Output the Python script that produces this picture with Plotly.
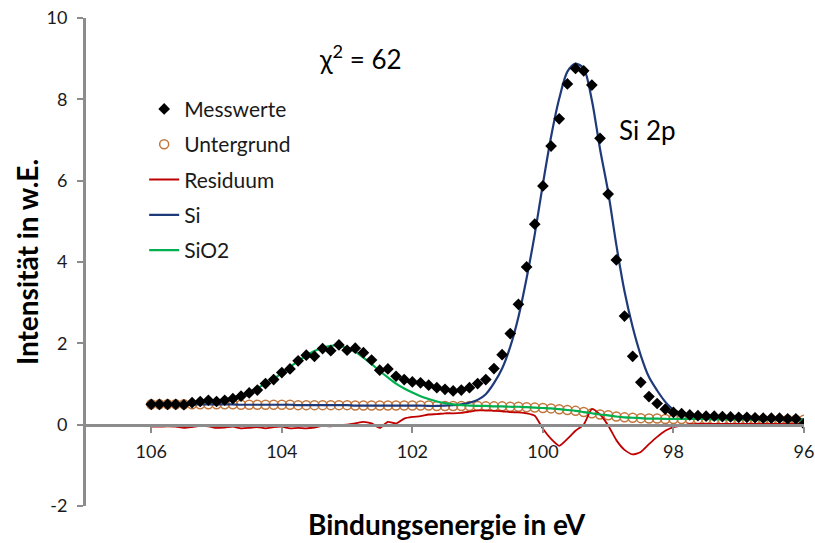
import plotly.graph_objects as go

# Binding energy grid (eV), 0.125 eV steps, high to low
energy = [
    106.0, 105.875, 105.75, 105.625, 105.5, 105.375, 105.25, 105.125,
    105.0, 104.875, 104.75, 104.625, 104.5, 104.375, 104.25, 104.125,
    104.0, 103.875, 103.75, 103.625, 103.5, 103.375, 103.25, 103.125,
    103.0, 102.875, 102.75, 102.625, 102.5, 102.375, 102.25, 102.125,
    102.0, 101.875, 101.75, 101.625, 101.5, 101.375, 101.25, 101.125,
    101.0, 100.875, 100.75, 100.625, 100.5, 100.375, 100.25, 100.125,
    100.0, 99.875, 99.75, 99.625, 99.5, 99.375, 99.25, 99.125,
    99.0, 98.875, 98.75, 98.625, 98.5, 98.375, 98.25, 98.125,
    98.0, 97.875, 97.75, 97.625, 97.5, 97.375, 97.25, 97.125,
    97.0, 96.875, 96.75, 96.625, 96.5, 96.375, 96.25, 96.125,
    96.0,
]

messwerte = [
    0.50, 0.50, 0.50, 0.50, 0.49, 0.54, 0.57, 0.60,
    0.57, 0.60, 0.64, 0.70, 0.78, 0.85, 1.01, 1.11,
    1.28, 1.37, 1.57, 1.71, 1.68, 1.87, 1.82, 1.96,
    1.83, 1.88, 1.77, 1.59, 1.34, 1.37, 1.19, 1.11,
    1.05, 1.03, 0.97, 0.91, 0.87, 0.83, 0.85, 0.91,
    1.01, 1.11, 1.38, 1.72, 2.24, 2.96, 3.88, 4.93,
    5.87, 6.85, 7.52, 8.38, 8.76, 8.70, 8.35, 7.04,
    5.67, 4.05, 2.67, 1.68, 1.04, 0.69, 0.52, 0.38,
    0.30, 0.27, 0.24, 0.22, 0.21, 0.21, 0.20, 0.19,
    0.18, 0.18, 0.17, 0.16, 0.16, 0.16, 0.14, 0.14,
    0.02,
]

untergrund = [
    0.50, 0.50, 0.50, 0.50, 0.50, 0.50, 0.50, 0.50,
    0.50, 0.50, 0.50, 0.49, 0.49, 0.49, 0.49, 0.49,
    0.49, 0.49, 0.48, 0.48, 0.48, 0.48, 0.48, 0.48,
    0.48, 0.47, 0.47, 0.47, 0.47, 0.47, 0.47, 0.47,
    0.47, 0.47, 0.47, 0.46, 0.46, 0.46, 0.46, 0.46,
    0.46, 0.45, 0.45, 0.45, 0.44, 0.44, 0.43, 0.42,
    0.41, 0.40, 0.38, 0.36, 0.34, 0.31, 0.28, 0.25,
    0.23, 0.20, 0.18, 0.17, 0.16, 0.15, 0.15, 0.14,
    0.14, 0.14, 0.14, 0.14, 0.14, 0.13, 0.13, 0.13,
    0.13, 0.13, 0.13, 0.13, 0.12, 0.12, 0.12, 0.12,
    0.12,
]

residuum = [
    -0.05, -0.05, -0.04, -0.05, -0.08, -0.06, -0.03, -0.04,
    -0.08, -0.07, -0.05, -0.09, -0.08, -0.06, -0.09, -0.06,
    -0.05, -0.09, -0.08, -0.09, -0.07, -0.03, -0.04, -0.01,
    0.00, 0.03, 0.07, 0.03, -0.08, 0.07, 0.03, 0.15,
    0.19, 0.21, 0.25, 0.26, 0.28, 0.28, 0.29, 0.32,
    0.35, 0.35, 0.34, 0.33, 0.31, 0.30, 0.28, 0.22,
    -0.10, -0.35, -0.52, -0.35, -0.15, 0.00, 0.38, 0.25,
    -0.02, -0.38, -0.62, -0.73, -0.67, -0.48, -0.30, -0.15,
    -0.06, -0.02, 0.01, 0.02, 0.02, 0.02, 0.02, 0.02,
    0.02, 0.02, 0.02, 0.02, 0.02, 0.02, 0.02, 0.02,
    0.01,
]

# Si component on top of the background
si_fit = [
    0.50, 0.50, 0.50, 0.50, 0.50, 0.50, 0.50, 0.50,
    0.50, 0.50, 0.50, 0.49, 0.49, 0.49, 0.49, 0.49,
    0.49, 0.49, 0.48, 0.48, 0.48, 0.48, 0.48, 0.48,
    0.48, 0.47, 0.47, 0.47, 0.47, 0.47, 0.47, 0.47,
    0.47, 0.47, 0.46, 0.46, 0.47, 0.48, 0.50, 0.54,
    0.61, 0.75, 1.02, 1.38, 1.92, 2.65, 3.60, 4.68,
    5.92, 7.08, 8.02, 8.68, 8.88, 8.76, 7.98, 6.78,
    5.72, 4.42, 3.28, 2.40, 1.70, 1.17, 0.84, 0.56,
    0.37, 0.28, 0.22, 0.19, 0.17, 0.16, 0.15, 0.15,
    0.14, 0.14, 0.14, 0.13, 0.13, 0.13, 0.13, 0.13,
    0.13,
]

# SiO2 component on top of the background
sio2_fit = [
    0.50, 0.50, 0.50, 0.51, 0.51, 0.52, 0.54, 0.56,
    0.59, 0.62, 0.67, 0.73, 0.81, 0.90, 1.01, 1.13,
    1.27, 1.42, 1.56, 1.70, 1.81, 1.89, 1.94, 1.94,
    1.88, 1.79, 1.65, 1.49, 1.32, 1.16, 1.01, 0.89,
    0.79, 0.70, 0.63, 0.57, 0.53, 0.50, 0.48, 0.47,
    0.46, 0.46, 0.45, 0.45, 0.44, 0.44, 0.43, 0.42,
    0.41, 0.40, 0.38, 0.36, 0.34, 0.31, 0.28, 0.25,
    0.23, 0.20, 0.18, 0.17, 0.16, 0.15, 0.15, 0.14,
    0.14, 0.14, 0.14, 0.14, 0.14, 0.13, 0.13, 0.13,
    0.13, 0.13, 0.13, 0.13, 0.12, 0.12, 0.12, 0.12,
    0.12,
]

x_ticks = [106, 104, 102, 100, 98, 96]
y_ticks = [-2, 0, 2, 4, 6, 8, 10]

FONT = "Lato"
TEXT = "#1a1a1a"
AXIS = "#8c8c8c"

fig = go.Figure()

fig.add_trace(go.Scatter(
    x=energy, y=untergrund, name="Untergrund", mode="markers",
    marker=dict(symbol="circle-open", size=9, color="#c0763c", line=dict(width=1.5)),
    legendgroup="b", legendrank=2,
))
fig.add_trace(go.Scatter(
    x=energy, y=residuum, name="Residuum", mode="lines",
    line=dict(color="#c00000", width=1.8, shape="spline", smoothing=0.6),
    legendgroup="c", legendrank=3,
))
fig.add_trace(go.Scatter(
    x=energy, y=si_fit, name="Si", mode="lines",
    line=dict(color="#1f3a7a", width=2.2, shape="spline", smoothing=0.8),
    legendgroup="d", legendrank=4,
))
fig.add_trace(go.Scatter(
    x=energy, y=sio2_fit, name="SiO2", mode="lines",
    line=dict(color="#00b050", width=2.2, shape="spline", smoothing=0.8),
    legendgroup="e", legendrank=5,
))
fig.add_trace(go.Scatter(
    x=energy, y=messwerte, name="Messwerte", mode="markers",
    marker=dict(symbol="diamond", size=9, color="black"),
    legendgroup="a", legendrank=1,
))

fig.update_layout(
    width=815, height=543,
    margin=dict(l=86, r=11, t=18, b=37),
    paper_bgcolor="white", plot_bgcolor="white",
    font=dict(family=FONT, color=TEXT, size=18),
    showlegend=True,
    legend=dict(
        x=0.081, y=0.855, xanchor="left", yanchor="top",
        font=dict(family=FONT, size=21, color=TEXT),
        bgcolor="rgba(0,0,0,0)", traceorder="grouped", tracegroupgap=5,
    ),
    xaxis=dict(
        range=[107, 96], tickvals=x_ticks, ticktext=[str(v) for v in x_ticks],
        showgrid=False, zeroline=False, automargin=False,
        showline=True, linecolor=AXIS, linewidth=3,
        ticks="outside", ticklen=6, tickwidth=2, tickcolor=AXIS,
        anchor="free", position=2 / 12,
        tickfont=dict(family=FONT, size=18, color=TEXT),
        ticklabelstandoff=4,
    ),
    yaxis=dict(
        range=[-2, 10], tickvals=y_ticks, ticktext=[str(v) for v in y_ticks],
        showgrid=False, zeroline=False, automargin=False,
        showline=True, linecolor=AXIS, linewidth=3,
        ticks="outside", ticklen=6, tickwidth=2, tickcolor=AXIS,
        tickfont=dict(family=FONT, size=18, color=TEXT),
        ticklabelstandoff=6,
    ),
    annotations=[
        dict(text="<b>Bindungsenergie in eV</b>", xref="paper", yref="paper",
             x=0.503, y=-0.037, xanchor="center", yanchor="middle", showarrow=False,
             font=dict(family=FONT, size=28, color="black")),
        dict(text="<b>Intensität in w.E.</b>", xref="paper", yref="paper",
             x=-0.082, y=0.5, xanchor="center", yanchor="middle", showarrow=False,
             textangle=-90, font=dict(family=FONT, size=28, color="black")),
        dict(text="χ<sup>2</sup> = 62", xref="x", yref="y",
             x=102.8, y=9.04, xanchor="center", yanchor="middle", showarrow=False,
             font=dict(family=FONT, size=26, color="black")),
        dict(text="Si 2p", xref="x", yref="y",
             x=98.4, y=7.24, xanchor="center", yanchor="middle", showarrow=False,
             font=dict(family=FONT, size=26, color="black")),
    ],
)

fig.write_html("out.html")
